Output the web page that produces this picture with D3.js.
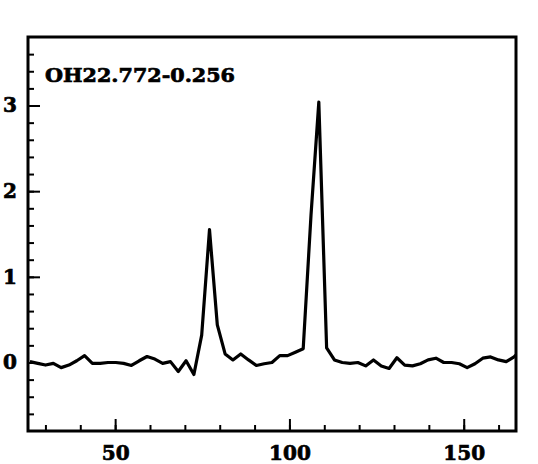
<!DOCTYPE html>
<html>
<head>
<meta charset="utf-8">
<script src="https://cdn.jsdelivr.net/npm/d3@7"></script>
<style>
    body { margin: 0; background: #fff; }
    text { font-family: "DejaVu Serif", serif; font-weight: bold; fill: #000; stroke: #000; stroke-width: 0.7px; }
</style>
</head>
<body>
<div id="spectrum-div"></div>
<script>
// global sizes
const width = 538;
const height = 464;
const frame = { left: 28, right: 516, top: 37, bottom: 431 };

// source name
const sourceName = "OH22.772-0.256";

// channel velocities
const velocity = [25.55, 27.79, 30.03, 32.27, 34.51, 36.75, 38.99, 41.23, 43.47, 45.71,
    47.95, 50.19, 52.43, 54.67, 56.91, 59.15, 61.39, 63.63, 65.87, 68.11,
    70.35, 72.59, 74.83, 77.07, 79.31, 81.55, 83.79, 86.03, 88.27, 90.51,
    92.75, 94.99, 97.23, 99.47, 101.71, 103.95, 106.19, 108.43, 110.67, 112.91,
    115.15, 117.39, 119.63, 121.87, 124.11, 126.35, 128.59, 130.83, 133.07, 135.31,
    137.55, 139.79, 142.03, 144.27, 146.51, 148.75, 150.99, 153.23, 155.47, 157.71,
    159.95, 162.19, 164.43, 166.67];

// flux density per channel
const flux = [0.01, -0.01, -0.03, -0.01, -0.06, -0.03, 0.02, 0.08, -0.01, -0.01,
    0.0, 0.0, -0.01, -0.035, 0.02, 0.07, 0.04, -0.01, 0.01, -0.105,
    0.02, -0.14, 0.32, 1.55, 0.44, 0.10, 0.03, 0.10, 0.03, -0.035,
    -0.015, 0.0, 0.08, 0.08, 0.12, 0.16, 1.72, 3.04, 0.17, 0.03,
    0.0, -0.01, 0.0, -0.04, 0.03, -0.04, -0.07, 0.055, -0.03, -0.04,
    -0.015, 0.03, 0.05, 0.0, 0.0, -0.015, -0.06, -0.015, 0.05, 0.065,
    0.03, 0.01, 0.065, 0.15];

// tick labels
const xTickLabels = [50, 100, 150];
const yTickLabels = [0, 1, 2, 3];

var data = velocity.map((v, i) => ({ v: v, s: flux[i] }));

var svg = d3.select("#spectrum-div")
    .append("svg")
    .attr("width", width)
    .attr("height", height);

// scales
var xScale = d3.scaleLinear()
    .domain([25, 165])
    .range([frame.left, frame.right]);

var yScale = d3.scaleLinear()
    .domain([-0.8, 3.8])
    .range([frame.bottom, frame.top]);

// clip so the last channel stops at the frame
svg.append("clipPath").attr("id", "plot-clip")
    .append("rect")
    .attr("x", frame.left)
    .attr("y", frame.top)
    .attr("width", frame.right - frame.left)
    .attr("height", frame.bottom - frame.top);

///////////////////
// axes (inward) //
///////////////////

// bottom: minor every 10, major at labels
var xMinor = d3.axisBottom(xScale)
    .tickValues(d3.range(30, 165, 10))
    .tickSize(-6)
    .tickFormat("");
var xMajor = d3.axisBottom(xScale)
    .tickValues(xTickLabels)
    .tickSize(-12)
    .tickPadding(15)
    .tickFormat(d3.format("d"));

svg.append("g").attr("id", "x-minor")
    .attr("transform", "translate(0," + frame.bottom + ")")
    .call(xMinor);
svg.append("g").attr("id", "x-axis")
    .attr("transform", "translate(0," + frame.bottom + ")")
    .call(xMajor);

// left: minor every 0.2, major at labels (inside the frame only)
var yMinor = d3.axisLeft(yScale)
    .tickValues(d3.range(-3, 19).map(d => d * 0.2))
    .tickSize(-6)
    .tickFormat("");
var yMajor = d3.axisLeft(yScale)
    .tickValues(yTickLabels)
    .tickSize(-12)
    .tickPadding(11)
    .tickFormat(d3.format("d"));

svg.append("g").attr("id", "y-minor")
    .attr("transform", "translate(" + frame.left + ",0)")
    .call(yMinor);
svg.append("g").attr("id", "y-axis")
    .attr("transform", "translate(" + frame.left + ",0)")
    .call(yMajor);

svg.selectAll(".domain").remove();
svg.selectAll(".tick line").attr("stroke", "#000").attr("stroke-width", 2);
svg.selectAll(".tick text")
    .style("font-family", "'DejaVu Serif', serif")
    .style("font-weight", "bold")
    .style("font-size", "20px")
    .attr("fill", "#000");

// frame box
svg.append("rect")
    .attr("x", frame.left)
    .attr("y", frame.top)
    .attr("width", frame.right - frame.left)
    .attr("height", frame.bottom - frame.top)
    .attr("fill", "none")
    .attr("stroke", "#000")
    .attr("stroke-width", 3);

/////////////////////
// spectrum line   //
/////////////////////
svg.append("path")
    .datum(data)
    .attr("clip-path", "url(#plot-clip)")
    .attr("fill", "none")
    .attr("stroke", "#000")
    .attr("stroke-width", 3.2)
    .attr("stroke-linejoin", "round")
    .attr("d", d3.line()
        .x(d => xScale(d.v))
        .y(d => yScale(d.s)));

// source label
svg.append("text")
    .attr("x", 45)
    .attr("y", 82)
    .attr("textLength", 190)
    .attr("lengthAdjust", "spacingAndGlyphs")
    .style("font-size", "19px")
    .text(sourceName);
</script>
</body>
</html>
